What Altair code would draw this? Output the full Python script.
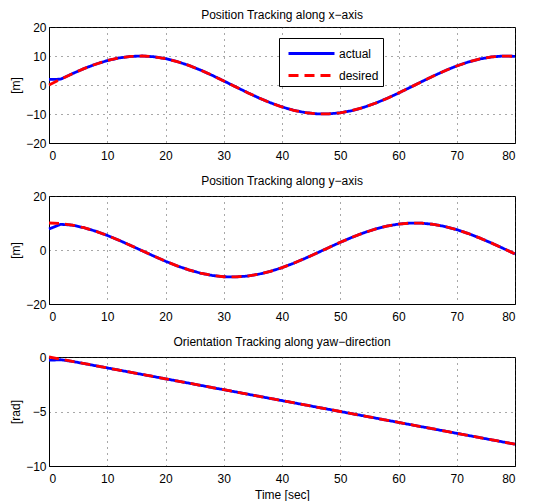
import altair as alt
import pandas as pd

# time grid [sec]
t = [0, 2, 4, 6, 8, 10, 12, 14, 16, 18, 20, 22, 24, 26, 28, 30, 32, 34, 36, 38, 40,
     42, 44, 46, 48, 50, 52, 54, 56, 58, 60, 62, 64, 66, 68, 70, 72, 74, 76, 78, 80]

# x-axis position [m]
x_desired = [0.0, 1.99, 3.89, 5.65, 7.17, 8.41, 9.32, 9.85, 10.0, 9.74, 9.09, 8.08, 6.75, 5.16,
             3.35, 1.41, -0.58, -2.55, -4.43, -6.12, -7.57, -8.72, -9.52, -9.94, -9.96, -9.59,
             -8.84, -7.73, -6.31, -4.65, -2.79, -0.83, 1.17, 3.11, 4.94, 6.57, 7.94, 8.99,
             9.68, 9.99, 9.89]
x_actual = [1.9, 2.0, 3.89, 5.65, 7.17, 8.41, 9.32, 9.85, 10.0, 9.74, 9.09, 8.08, 6.75, 5.16,
            3.35, 1.41, -0.58, -2.55, -4.43, -6.12, -7.57, -8.72, -9.52, -9.94, -9.96, -9.59,
            -8.84, -7.73, -6.31, -4.65, -2.79, -0.83, 1.17, 3.11, 4.94, 6.57, 7.94, 8.99,
            9.68, 9.99, 9.89]

# y-axis position [m]
y_desired = [10.0, 9.80, 9.21, 8.25, 6.97, 5.40, 3.62, 1.70, -0.29, -2.27, -4.16, -5.89, -7.37,
             -8.57, -9.42, -9.90, -9.98, -9.67, -8.97, -7.91, -6.54, -4.90, -3.07, -1.12, 0.87,
             2.84, 4.68, 6.34, 7.75, 8.85, 9.60, 9.97, 9.93, 9.50, 8.69, 7.54, 6.09, 4.40,
             2.54, 0.58, -1.46]
y_actual = [7.8, 9.5, 9.21, 8.25, 6.97, 5.40, 3.62, 1.70, -0.29, -2.27, -4.16, -5.89, -7.37,
            -8.57, -9.42, -9.90, -9.98, -9.67, -8.97, -7.91, -6.54, -4.90, -3.07, -1.12, 0.87,
            2.84, 4.68, 6.34, 7.75, 8.85, 9.60, 9.97, 9.93, 9.50, 8.69, 7.54, 6.09, 4.40,
            2.54, 0.58, -1.46]

# yaw orientation [rad]
t_yaw = [0, 2, 4, 10, 20, 30, 40, 50, 60, 70, 80]
yaw_desired = [0.0, -0.2, -0.4, -1.0, -2.0, -3.0, -4.0, -5.0, -6.0, -7.0, -8.0]
yaw_actual = [-0.3, -0.25, -0.4, -1.0, -2.0, -3.0, -4.0, -5.0, -6.0, -7.0, -8.0]

series = ["actual", "desired"]
x_ticks = [0, 10, 20, 30, 40, 50, 60, 70, 80]

FONT = "Liberation Sans"
W = 466


def make_df(tt, actual, desired):
    a = pd.DataFrame({"t": tt, "v": actual, "series": "actual"})
    d = pd.DataFrame({"t": tt, "v": desired, "series": "desired"})
    return pd.concat([a, d], ignore_index=True)


def panel(df, title, ydom, yticks, ytitle, h, xtitle=None, legend=False, toff=2):
    if legend:
        leg = alt.Legend(
            title=None, orient="none", legendX=230, legendY=11,
            symbolType="M-2.3,0H2.3", symbolSize=400, symbolStrokeWidth=3,
            symbolOffset=17, labelOffset=16,
            labelFont=FONT, labelFontSize=12, labelColor="black",
            strokeColor="black", fillColor="white", padding=4,
            rowPadding=4,
        )
    else:
        leg = None
    color = alt.Color("series:N", scale=alt.Scale(domain=series, range=["#0000ff", "#ff0000"]),
                      legend=leg)
    dash = alt.StrokeDash("series:N", scale=alt.Scale(domain=series, range=[[1, 0], [10, 6]]),
                          legend=leg)
    xaxis = alt.Axis(values=x_ticks, title=xtitle if xtitle else None, titleFont=FONT,
                     titleFontSize=12, titleFontWeight="normal", titleColor="black",
                     titlePadding=5)
    yaxis = alt.Axis(values=yticks, title=ytitle, titleFont=FONT, titleFontSize=12,
                     titleFontWeight="normal", titleColor="black", titlePadding=3,
                     minExtent=24, maxExtent=24)
    return alt.Chart(df).mark_line(strokeWidth=2.8).encode(
        x=alt.X("t:Q", scale=alt.Scale(domain=[0, 80], nice=False), axis=xaxis),
        y=alt.Y("v:Q", scale=alt.Scale(domain=ydom, nice=False), axis=yaxis),
        color=color,
        strokeDash=dash,
        order=alt.Order("t:Q"),
    ).properties(
        width=W, height=h,
        title=alt.TitleParams(title, font=FONT, fontSize=12, fontWeight="normal",
                              color="black", offset=toff),
    )


p1 = panel(make_df(t, x_actual, x_desired), "Position Tracking along x\u2212axis",
           [-20, 20], [-20, -10, 0, 10, 20], "[m]", 116, legend=True, toff=-1)
p2 = panel(make_df(t, y_actual, y_desired), "Position Tracking along y\u2212axis",
           [-20, 20], [-20, 0, 20], "[m]", 108)
p3 = panel(make_df(t_yaw, yaw_actual, yaw_desired), "Orientation Tracking along yaw\u2212direction",
           [-10, 0], [-10, -5, 0], "[rad]", 109, xtitle="Time [sec]")

chart = alt.vconcat(
    p1, p2, p3, spacing=12,
    padding={"left": 0, "top": 0, "right": 0, "bottom": 0},
).configure_view(
    stroke="black", strokeWidth=1
).configure_axis(
    labelFont=FONT, labelFontSize=12, labelColor="black",
    domainColor="black", domainWidth=1, ticks=False, labelPadding=3,
    grid=True, gridColor="#333333", gridDash=[1, 5], gridWidth=1, gridOpacity=0.85,
).configure_axisX(labelPadding=7)

chart.save("out.html", embed_options={"renderer": "svg", "actions": False})
